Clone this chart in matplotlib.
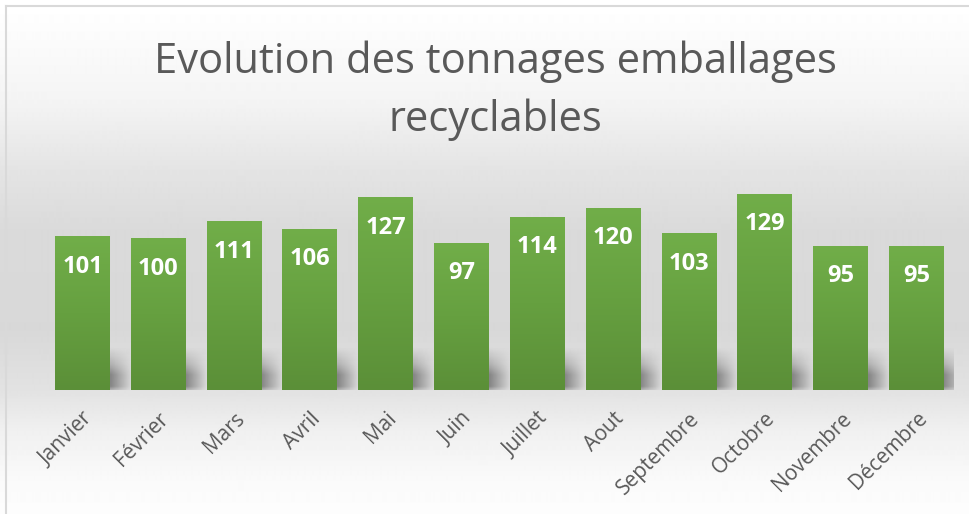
import numpy as np
import matplotlib
matplotlib.use('Agg')
import matplotlib.pyplot as plt
from matplotlib.colors import LinearSegmentedColormap

months = ['Janvier', 'Février', 'Mars', 'Avril', 'Mai', 'Juin', 'Juillet',
          'Aout', 'Septembre', 'Octobre', 'Novembre', 'Décembre']
tonnages = [101, 100, 111, 106, 127, 97, 114, 120, 103, 129, 95, 95]
title_lines = ['Evolution des tonnages emballages', 'recyclables']

W, H = 969, 514
fig = plt.figure(figsize=(W / 100, H / 100), dpi=100)

# ---- chart-area background gradient
bg = fig.add_axes([0, 0, 1, 1], zorder=0)
ys = np.array([0, 15, 100, 170, 230, 330, 390, 430, 480, 514])
vals = np.array([255, 254, 244, 228, 218, 216, 226, 240, 250, 253]) / 255
col = np.interp(np.arange(H), ys, vals)
img = np.repeat(col[:, None], 2, axis=1)
bg.imshow(img, cmap='gray', vmin=0, vmax=1, extent=[0, 1, 0, 1],
          aspect='auto', interpolation='bilinear')
bg.plot([6 / W, 6 / W], [0, 1 - 6 / H], color='#d9d9d9', lw=1.5)
bg.plot([6 / W, 1], [1 - 6 / H, 1 - 6 / H], color='#d9d9d9', lw=1.5)
bg.set_xlim(0, 1)
bg.set_ylim(0, 1)
bg.axis('off')

# ---- title
fig.text(495 / W, 1 - 73 / H, title_lines[0], ha='center', va='baseline',
         fontsize=30, color='#595959', family='Open Sans')
fig.text(495 / W, 1 - 131 / H, title_lines[1], ha='center', va='baseline',
         fontsize=30, color='#595959', family='Open Sans')

# ---- plot axes
ax = fig.add_axes([44.6 / W, 124 / H, 909.8 / W, 228 / H], zorder=1)
ax.patch.set_visible(False)
x = np.arange(len(months))
bw = 0.725
bars = ax.bar(x, tonnages, width=bw, color='#67a041', zorder=3)

green = LinearSegmentedColormap.from_list('g', ['#5b8f38', '#66a040', '#71ae49'])
grad = np.linspace(1, 0, 256)[:, None]
shadow_rgba = np.zeros((64, 64, 4))
sx = np.linspace(0, 1, 64)
sy = np.linspace(1, 0, 64)  # top row -> top of shadow
hx = np.clip(1 - (sx - 0.55) / 0.45, 0, 1)
hy = np.interp(sy, [0, 0.08, 0.35, 0.6, 1.0], [0.55, 1.0, 1.0, 0.5, 0.0])
shadow_rgba[..., :3] = 0.36
shadow_rgba[..., 3] = 0.68 * np.outer(hy, hx)

for b in bars:
    x0, x1 = b.get_x(), b.get_x() + b.get_width()
    h = b.get_height()
    im = ax.imshow(grad, cmap=green, extent=[x0, x1, 0, h], aspect='auto',
                   zorder=3.5, interpolation='bilinear')
    im.set_clip_path(b)
    ax.imshow(shadow_rgba, extent=[x0 + bw / 2, x1 + 0.3, 0, 28], aspect='auto',
              zorder=2, interpolation='bilinear')

for xi, v in zip(x, tonnages):
    ax.annotate(str(v), (xi, v), xytext=(0, -22), textcoords='offset points',
                ha='center', va='center', color='white', fontsize=17,
                fontweight='bold', family='Open Sans', zorder=5)

ax.set_xlim(-0.5, len(months) - 0.5)
ax.set_ylim(0, 150)
ax.set_xticks(x)
ax.set_xticklabels(months, rotation=45, ha='right', va='top',
                   rotation_mode='anchor', color='#595959', fontsize=15,
                   family='Open Sans')
ax.tick_params(axis='x', length=0, pad=13)
ax.set_yticks([])
for s in ax.spines.values():
    s.set_visible(False)

fig.savefig('out.png', dpi=100)
